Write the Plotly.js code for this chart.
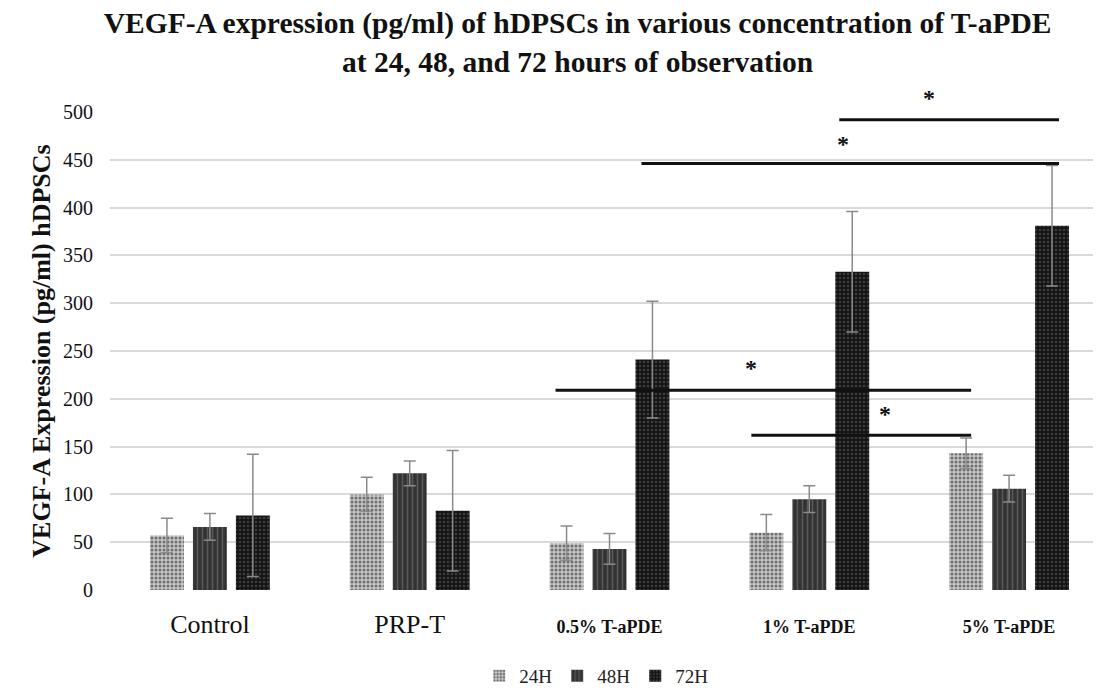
<!DOCTYPE html>
<html>
<head>
<meta charset="utf-8">
<script src="https://cdn.plot.ly/plotly-3.0.1.min.js"></script>
<style>html,body{margin:0;padding:0;background:#fff}#chart{width:1096px;height:691px}</style>
</head>
<body>
<div id="chart"></div>
<script>
// ---- data ----
const categories = ["Control", "PRP-T", "0.5% T-aPDE", "1% T-aPDE", "5% T-aPDE"];
const tickLabels = [
  "Control",
  "PRP-T",
  "<b><span style=\"font-size:18px\">0.5% T-aPDE</span></b>",
  "<b><span style=\"font-size:18px\">1% T-aPDE</span></b>",
  "<b><span style=\"font-size:18px\">5% T-aPDE</span></b>"
];
const seriesNames = ["24H", "48H", "72H"];
const values24 = [57, 100, 49, 60, 143];
const values48 = [66, 122, 43, 95, 106];
const values72 = [78, 83, 241, 333, 381];
const err24 = [18, 18, 18, 19, 16];
const err48 = [14, 13, 16, 14, 14];
const err72 = [64, 63, 61, 63, 63];
// significance bars: [x start, x end, y]
const sigLinesX0 = [3.15, 2.16, 1.73, 2.71];
const sigLinesX1 = [4.25, 4.25, 3.81, 3.81];
const sigLinesY = [492, 446, 209, 162];
const starX = [3.60, 3.17, 2.71, 3.38];
const starY = [515, 467, 232, 184];
const yMax = 500;

const xs = categories.map((_, i) => i);
const serif = "Liberation Serif, Times New Roman, serif";

const styles = [
  {color: "#9a9a9a", pattern: {shape: ".", fgcolor: "#6f6f6f", bgcolor: "#c8c8c8", size: 4, solidity: 0.45}},
  {color: "#3a3a3a", pattern: {shape: "|", fgcolor: "#5a5a5a", bgcolor: "#333333", size: 5, solidity: 0.3}},
  {color: "#151515", pattern: {shape: ".", fgcolor: "#3c3c3c", bgcolor: "#141414", size: 4, solidity: 0.35}}
];
const vals = [values24, values48, values72];
const errs = [err24, err48, err72];

const traces = seriesNames.map((name, k) => ({
  type: "bar",
  name: name,
  x: xs,
  y: vals[k],
  marker: {color: styles[k].color, pattern: styles[k].pattern, line: {width: 0}},
  error_y: {type: "data", array: errs[k], visible: true, symmetric: true, color: "#8a8a8a", thickness: 1.5, width: 6}
}));

const shapes = sigLinesY.map((y, i) => ({
  type: "line", xref: "x", yref: "y",
  x0: sigLinesX0[i], x1: sigLinesX1[i], y0: y, y1: y,
  line: {color: "#111", width: 3}
}));
const annotations = starY.map((y, i) => ({
  x: starX[i], y: y / yMax, xref: "x", yref: "paper", text: "<b>*</b>", showarrow: false,
  font: {family: serif, size: 24, color: "#111"}, yanchor: "middle"
}));

const layout = {
  width: 1096, height: 691,
  paper_bgcolor: "#fff", plot_bgcolor: "#fff",
  margin: {l: 110, r: 3, t: 112, b: 101},
  barmode: "group", bargap: 0.355, bargroupgap: 0.21,
  title: {
    text: "<b>VEGF-A expression (pg/ml) of hDPSCs in various concentration of T-aPDE<br>at 24, 48, and 72 hours of observation</b>",
    font: {family: serif, size: 29.5, color: "#111"},
    x: 0.527, xref: "container", xanchor: "center",
    y: 0.952, yref: "container", yanchor: "middle"
  },
  xaxis: {
    range: [-0.5, 4.42], tickvals: xs, ticktext: tickLabels,
    showgrid: false, zeroline: false, showline: false, ticks: "",
    ticklabelstandoff: 16,
    tickfont: {family: serif, size: 26, color: "#111"}
  },
  yaxis: {
    range: [0, yMax], dtick: 50, showgrid: true, gridcolor: "#d9d9d9", gridwidth: 2,
    zeroline: false, showline: false, ticks: "",
    ticklabelstandoff: 16,
    tickfont: {family: serif, size: 20, color: "#111"},
    title: {text: "<b>VEGF-A Expression (pg/ml) hDPSCs</b>", font: {family: serif, size: 26, color: "#111"}, standoff: 4}
  },
  legend: {
    orientation: "h", x: 0.544, xref: "container", xanchor: "center",
    y: 0.022, yref: "container", yanchor: "middle",
    font: {family: serif, size: 19, color: "#222"},
    itemwidth: 30, traceorder: "normal"
  },
  shapes: shapes,
  annotations: annotations
};

Plotly.newPlot("chart", traces, layout, {displayModeBar: false, staticPlot: true});
</script>
</body>
</html>
